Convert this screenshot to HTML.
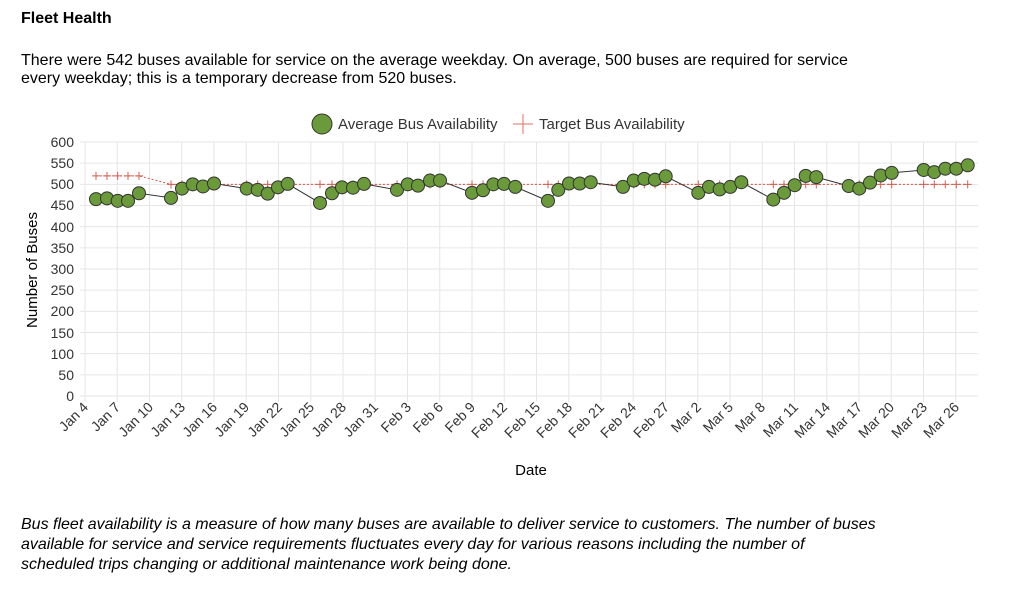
<!DOCTYPE html>
<html><head><meta charset="utf-8"><style>
html,body{margin:0;padding:0;background:#fff;width:1024px;height:596px;overflow:hidden}
body{font-family:"Liberation Sans",Arial,sans-serif;color:#000;position:relative}
.t{position:absolute;left:21px;top:10px;font-size:16px;font-weight:bold}
.p{position:absolute;left:21px;top:52px;font-size:16px;line-height:18px;width:870px}
.f{position:absolute;left:21px;top:515px;font-size:16px;line-height:20px;font-style:italic;width:858px}
svg{position:absolute;left:0;top:0}
svg text{font-family:"Liberation Sans",Arial,sans-serif;fill:#333}
</style></head><body>
<div class="t">Fleet Health</div>
<div class="p">There were 542 buses available for service on the average weekday. On average, 500 buses are required for service every weekday; this is a temporary decrease from 520 buses.</div>
<svg width="1024" height="596" id="s">
<g id="grid" stroke="#e6e6e6" stroke-width="1"></g>
<g font-size="14" text-anchor="end" fill="#333">
<text x="74" y="147">600</text><text x="74" y="168">550</text><text x="74" y="189">500</text><text x="74" y="210">450</text><text x="74" y="232">400</text><text x="74" y="253">350</text><text x="74" y="274">300</text><text x="74" y="295">250</text><text x="74" y="316">200</text><text x="74" y="338">150</text><text x="74" y="359">100</text><text x="74" y="380">50</text><text x="74" y="401">0</text>
</g>
<g id="xl" font-size="14" text-anchor="end">
<text transform="translate(89,408) rotate(-45)">Jan 4</text>
<text transform="translate(121,408) rotate(-45)">Jan 7</text>
<text transform="translate(154,408) rotate(-45)">Jan 10</text>
<text transform="translate(186,408) rotate(-45)">Jan 13</text>
<text transform="translate(218,408) rotate(-45)">Jan 16</text>
<text transform="translate(250,408) rotate(-45)">Jan 19</text>
<text transform="translate(283,408) rotate(-45)">Jan 22</text>
<text transform="translate(315,408) rotate(-45)">Jan 25</text>
<text transform="translate(347,408) rotate(-45)">Jan 28</text>
<text transform="translate(379,408) rotate(-45)">Jan 31</text>
<text transform="translate(412,408) rotate(-45)">Feb 3</text>
<text transform="translate(444,408) rotate(-45)">Feb 6</text>
<text transform="translate(476,408) rotate(-45)">Feb 9</text>
<text transform="translate(508,408) rotate(-45)">Feb 12</text>
<text transform="translate(541,408) rotate(-45)">Feb 15</text>
<text transform="translate(573,408) rotate(-45)">Feb 18</text>
<text transform="translate(605,408) rotate(-45)">Feb 21</text>
<text transform="translate(637,408) rotate(-45)">Feb 24</text>
<text transform="translate(670,408) rotate(-45)">Feb 27</text>
<text transform="translate(702,408) rotate(-45)">Mar 2</text>
<text transform="translate(734,408) rotate(-45)">Mar 5</text>
<text transform="translate(766,408) rotate(-45)">Mar 8</text>
<text transform="translate(799,408) rotate(-45)">Mar 11</text>
<text transform="translate(831,408) rotate(-45)">Mar 14</text>
<text transform="translate(863,408) rotate(-45)">Mar 17</text>
<text transform="translate(895,408) rotate(-45)">Mar 20</text>
<text transform="translate(928,408) rotate(-45)">Mar 23</text>
<text transform="translate(960,408) rotate(-45)">Mar 26</text>
</g>
<text x="531" y="475" font-size="15" text-anchor="middle" style="fill:#000">Date</text>
<text transform="translate(37,270) rotate(-90)" font-size="15" text-anchor="middle" style="fill:#000">Number of Buses</text>
<circle cx="322" cy="124" r="10" fill="#6a9a3a" stroke="#333" stroke-width="1"/>
<text x="338" y="129" font-size="15" style="fill:#333">Average Bus Availability</text>
<path d="M513 124h20M523 114v20" stroke="#e07060" stroke-width="1"/>
<text x="539" y="129" font-size="15" style="fill:#333">Target Bus Availability</text>
<g id="tg"></g>
<g id="av"></g>
</svg>
<div class="f">Bus fleet availability is a measure of how many buses are available to deliver service to customers. The number of buses available for service and service requirements fluctuates every day for various reasons including the number of scheduled trips changing or additional maintenance work being done.</div>
<script>
var ns="http://www.w3.org/2000/svg";
function el(p,t,a){var e=document.createElementNS(ns,t);for(var k in a)e.setAttribute(k,a[k]);p.appendChild(e);return e;}
var Y=function(v){return 396-v*0.4233;};
var g=document.getElementById('grid');
for(var v=0;v<=600;v+=50){el(g,'line',{x1:80,x2:978,y1:Y(v),y2:Y(v)});}
for(var k=0;k<28;k++){var x=85+32.25*k;el(g,'line',{x1:x,x2:x,y1:142,y2:402});}
var d=[[96,465],[107,467],[117.7,461],[128,461],[139,479],[171,468],[182,490],[192.7,500],[203,495],[214,502],[246.7,490],[257.7,487],[267.7,478],[278,493],[287.7,501],[320,456],[332,479],[342,493],[353,492],[364,501],[397,487],[407.7,500],[418,497],[430,509],[440,509],[472,480],[483,486],[493.3,500],[504,501],[515.3,494],[548,461],[558.3,487],[569,502],[579.7,502],[590.7,505],[623,494],[633.7,509],[644.3,513],[655,511],[665.7,519],[698.3,480],[709,494],[719.7,488],[730.3,494],[741.3,505],[773.3,464],[784,480],[794.7,498],[805.7,520],[816.3,517],[848.7,496],[859.3,490],[870,504],[880.7,521],[891.7,527],[923.7,534],[934.3,529],[945.3,537],[956.3,537],[967.7,545]];
var tg=document.getElementById('tg');
var tp=d.map(function(p,i){return [p[0],i<5?520:500];});
el(tg,'polyline',{points:tp.map(function(p){return p[0]+','+Y(p[1]);}).join(' '),fill:'none',stroke:'#e05040','stroke-width':1,'stroke-dasharray':'2,2'});
tp.forEach(function(p){var x=p[0],y=Y(p[1]);el(tg,'path',{d:'M'+(x-4)+' '+y+'h8M'+x+' '+(y-4)+'v8',stroke:'#d06050','stroke-width':1});});
var av=document.getElementById('av');
el(av,'polyline',{points:d.map(function(p){return p[0]+','+Y(p[1]);}).join(' '),fill:'none',stroke:'#333','stroke-width':1});
d.forEach(function(p){el(av,'circle',{cx:p[0],cy:Y(p[1]),r:6.5,fill:'#6a9a3a',stroke:'#333','stroke-width':1});});
</script>
</body></html>
